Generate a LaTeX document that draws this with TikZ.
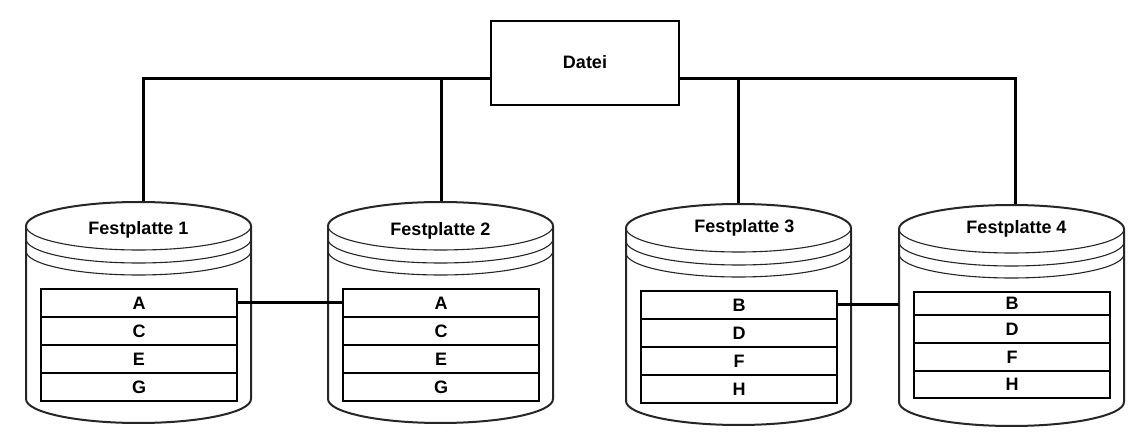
\documentclass[tikz,border=0pt]{standalone}
\usepackage{fontspec}
\setmainfont{Liberation Sans}
\tikzset{
  x=1pt,y=1pt,
  txt/.style={font=\fontsize{18}{21}\selectfont\bfseries, inner sep=0pt},
  conn/.style={line width=3pt, draw=black},
  rowbox/.style={draw=black, line width=2.6pt, fill=white, minimum width=196pt, minimum height=28pt, inner sep=0pt, font=\fontsize{18}{21}\selectfont\bfseries},
  datbox/.style={draw=black, line width=2.6pt, fill=white, minimum width=188pt, minimum height=84pt, inner sep=0pt, font=\fontsize{18}{21}\selectfont\bfseries},
  diskwall/.style={draw=black!85, line width=2pt, fill=white},
  diskarc/.style={draw=black!85, line width=1.1pt},
}
\newcommand\mydisk[2]{%
  \begin{scope}[shift={(#1,#2)}]
    \filldraw[diskwall] (0,-24) -- (0,-197)
      arc[start angle=180,end angle=360,x radius=112.5pt,y radius=24pt]
      -- (225,-24)
      arc[start angle=0,end angle=180,x radius=112.5pt,y radius=24pt] -- cycle;
    \draw[diskarc] (0,-24) arc[start angle=180,end angle=360,x radius=112.5pt,y radius=24pt];
    \draw[diskarc] (0,-37) arc[start angle=180,end angle=360,x radius=112.5pt,y radius=24pt];
    \draw[diskarc] (0,-49) arc[start angle=180,end angle=360,x radius=112.5pt,y radius=24pt];
  \end{scope}}
\begin{document}
\begin{tikzpicture}
\useasboundingbox (0,0) rectangle (1141,442);

% Datei
\node[datbox] (datei) at (585,379) {\raisebox{2pt}{Datei}};

% connector coordinates (tops of the disks)
\coordinate (t1) at (143.5,240);
\coordinate (t2) at (441.5,240);
\coordinate (t3) at (738.5,238);
\coordinate (t4) at (1015.5,237);
\coordinate (dl) at ([yshift=-16pt]datei.west);
\coordinate (dr) at ([yshift=-16pt]datei.east);

\draw[conn] (dl) -- (dl -| t1) -- (t1);
\draw[conn] (dl -| t2) -- (t2);
\draw[conn] (dr) -- (dr -| t4) -- (t4);
\draw[conn] (dr -| t3) -- (t3);

% disks
\mydisk{26}{240}
\mydisk{328}{240}
\mydisk{626}{238}
\mydisk{899}{237}

\node[txt] (f1) at (138.5,212) {Festplatte 1};
\node[txt] (f2) at (440.5,211) {Festplatte 2};
\node[txt] (f3) at (744.5,214) {Festplatte 3};
\node[txt] (f4) at (1016.5,213.5) {Festplatte 4};

% tables
\node[rowbox] (a1) at (139,139) {A};
\node[rowbox] (c1) at (139,111) {C};
\node[rowbox] (e1) at (139,83) {E};
\node[rowbox] (g1) at (139,55) {G};

\node[rowbox] (a2) at (441,139) {A};
\node[rowbox] (c2) at (441,111) {C};
\node[rowbox] (e2) at (441,83) {E};
\node[rowbox] (g2) at (441,55) {G};

\node[rowbox] (b3) at (739,137) {B};
\node[rowbox] (d3) at (739,109) {D};
\node[rowbox] (f3r) at (739,81) {F};
\node[rowbox] (h3) at (739,53) {H};

\node[rowbox, minimum height=23pt] (b4) at (1012,138.5) {B};
\node[rowbox] (d4) at (1012,113) {D};
\node[rowbox] (f4r) at (1012,85) {\raisebox{-4pt}{F}};
\node[rowbox, minimum height=27pt] (h4) at (1012,57.5) {H};

% links between tables / disks
\coordinate (w4) at (899,137);
\draw[conn] (a1.east) -- (a2.west);
\draw[conn] (b3.east) -- (w4);
\end{tikzpicture}
\end{document}
